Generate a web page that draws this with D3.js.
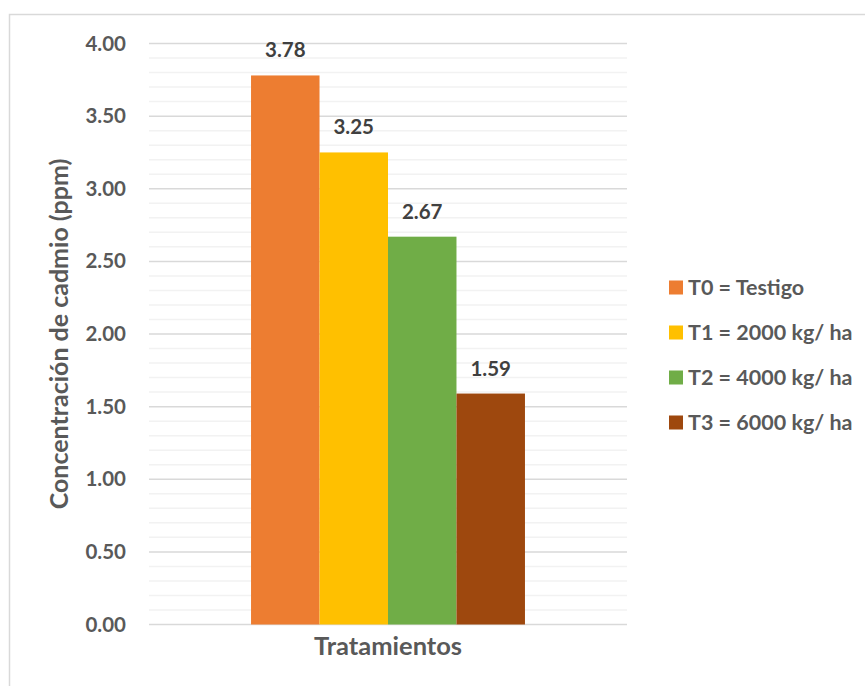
<!DOCTYPE html>
<html>
<head>
<meta charset="utf-8">
<script src="https://cdn.jsdelivr.net/npm/d3@7/dist/d3.min.js"></script>
<style>
  html, body { margin: 0; padding: 0; background: #ffffff; }
  svg { display: block; }
  text { font-family: Lato, "Open Sans", sans-serif; font-weight: bold; }
</style>
</head>
<body>
<svg id="chart" width="865" height="686"></svg>
<script>
// Cadmium concentration by treatment
const categories = ["Tratamientos"];
const seriesNames = ["T0 = Testigo", "T1 = 2000 kg/ ha", "T2 = 4000 kg/ ha", "T3 = 6000 kg/ ha"];
const seriesValues = [3.78, 3.25, 2.67, 1.59];
const seriesColors = ["#ED7D31", "#FFC000", "#70AD47", "#9E480E"];
const yTickValues = [0, 0.5, 1, 1.5, 2, 2.5, 3, 3.5, 4];
const yMinorValues = d3.range(1, 40).filter(i => i % 5 !== 0).map(i => i / 10);
const yTitle = "Concentración de cadmio (ppm)";

const svg = d3.select("#chart");

// chart frame
svg.append("rect")
  .attr("x", 9.5).attr("y", 14.5)
  .attr("width", 870).attr("height", 700)
  .attr("fill", "none")
  .attr("stroke", "#d9d9d9")
  .attr("stroke-width", 1.5);

const plot = { left: 149, right: 627, top: 43.5, bottom: 624.5 };

const y = d3.scaleLinear().domain([0, 4]).range([plot.bottom, plot.top]);
const x0 = d3.scaleBand().domain(categories).range([plot.left, plot.right]).padding(0.2714);
const x1 = d3.scaleBand().domain(seriesNames).range([0, x0.bandwidth()]).padding(0);

// minor gridlines
svg.append("g").selectAll("line")
  .data(yMinorValues)
  .join("line")
  .attr("x1", plot.left).attr("x2", plot.right)
  .attr("y1", d => y(d)).attr("y2", d => y(d))
  .attr("stroke", "#f2f2f2")
  .attr("stroke-width", 1.5);

// major gridlines
svg.append("g").selectAll("line")
  .data(yTickValues)
  .join("line")
  .attr("x1", plot.left).attr("x2", plot.right)
  .attr("y1", d => y(d)).attr("y2", d => y(d))
  .attr("stroke", "#d9d9d9")
  .attr("stroke-width", 1.5);

// y axis labels
const yAxis = d3.axisLeft(y)
  .tickValues(yTickValues)
  .tickFormat(d3.format(".2f"))
  .tickSize(0)
  .tickPadding(0);
const yAxisG = svg.append("g")
  .attr("transform", `translate(126,0)`)
  .call(yAxis);
yAxisG.select(".domain").remove();
yAxisG.selectAll("text")
  .attr("fill", "#595959")
  .style("font-family", "Lato, sans-serif")
  .style("font-weight", "bold")
  .style("font-size", "20.5px");

// bars
const groups = svg.append("g").selectAll("g")
  .data(categories)
  .join("g")
  .attr("transform", d => `translate(${x0(d)},0)`);

groups.selectAll("rect")
  .data(seriesNames.map((name, i) => ({ name, value: seriesValues[i], color: seriesColors[i] })))
  .join("rect")
  .attr("x", d => x1(d.name))
  .attr("width", x1.bandwidth())
  .attr("y", d => y(d.value))
  .attr("height", d => y(0) - y(d.value))
  .attr("fill", d => d.color);

// value labels
groups.selectAll("text")
  .data(seriesNames.map((name, i) => ({ name, value: seriesValues[i] })))
  .join("text")
  .attr("x", d => x1(d.name) + x1.bandwidth() / 2)
  .attr("y", d => y(d.value) - 18)
  .attr("text-anchor", "middle")
  .attr("fill", "#404040")
  .style("font-size", "20.5px")
  .text(d => d3.format(".2f")(d.value));

// x axis title
svg.append("text")
  .attr("x", (plot.left + plot.right) / 2)
  .attr("y", 655)
  .attr("text-anchor", "middle")
  .attr("fill", "#595959")
  .style("font-size", "25.5px")
  .text(categories[0]);

// y axis title
svg.append("text")
  .attr("transform", `translate(68,${(plot.top + plot.bottom) / 2}) rotate(-90)`)
  .attr("text-anchor", "middle")
  .attr("fill", "#595959")
  .style("font-size", "25px")
  .text(yTitle);

// legend
const legendRow = d3.scaleBand().domain(seriesNames).range([265, 445]);
const legend = svg.append("g").selectAll("g")
  .data(seriesNames)
  .join("g")
  .attr("transform", d => `translate(669,${legendRow(d) + legendRow.bandwidth() / 2})`);
legend.append("rect")
  .attr("x", 0).attr("y", -7)
  .attr("width", 14).attr("height", 14)
  .attr("fill", (d, i) => seriesColors[i]);
legend.append("text")
  .attr("x", 19)
  .attr("dy", "0.36em")
  .attr("fill", "#595959")
  .style("font-size", "21.5px")
  .text(d => d);
</script>
</body>
</html>
